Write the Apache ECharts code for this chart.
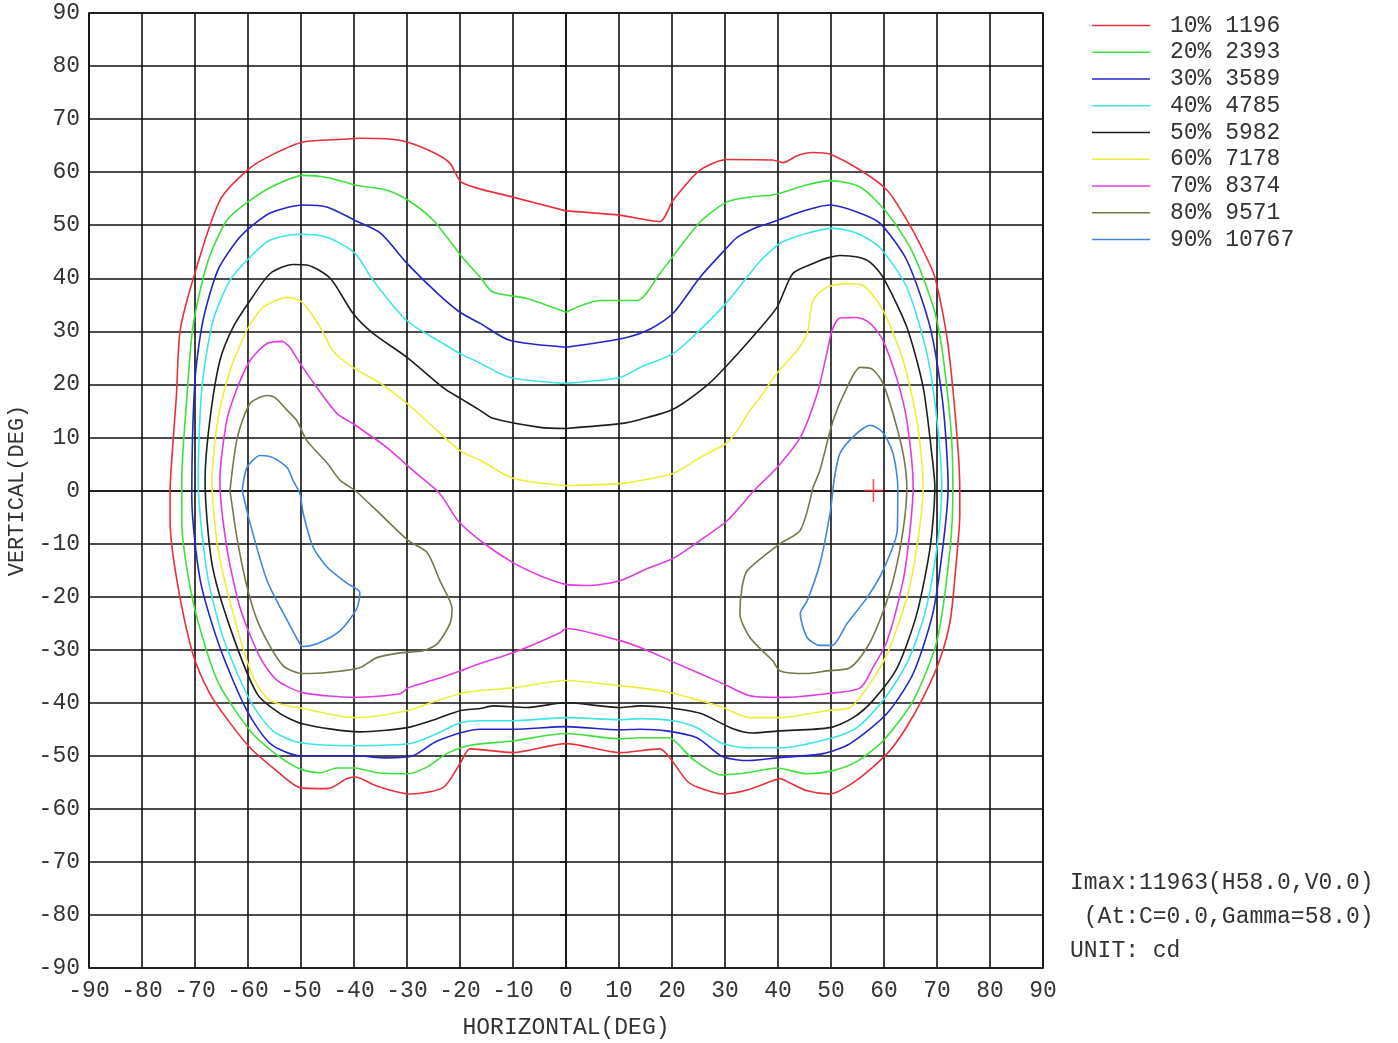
<!DOCTYPE html>
<html>
<head>
<meta charset="utf-8">
<script src="https://cdn.jsdelivr.net/npm/echarts@6/dist/echarts.min.js"></script>
<style>
html, body { margin: 0; padding: 0; background: #fff; }
#chart { width: 1398px; height: 1043px; }
</style>
</head>
<body>
<div id="chart"></div>
<script>
// iso-candela levels
var levelPct = ['10%', '20%', '30%', '40%', '50%', '60%', '70%', '80%', '90%'];
var levelCd = [1196, 2393, 3589, 4785, 5982, 7178, 8374, 9571, 10767];

// contour points [H deg, V deg]
var c10 = [[0,52.7],[10,51.9],[17.7,50.7],[20.2,54.7],[25.3,60.4],[30.4,62.4],[39,62.3],[41,61.8],[43.6,63.1],[46.6,63.7],[49.8,63.4],[55.5,60.4],[60.6,56.6],[64.3,51],[67,46],[69.6,40.2],[72,28],[73.8,10],[74.3,0],[74.3,-4.4],[73.5,-15],[72.5,-24.5],[70.5,-32],[67.4,-39],[64,-45],[60.6,-49.6],[55,-54.5],[49.8,-57.2],[45.5,-56.6],[42,-55],[40.4,-54.3],[39,-54.7],[34,-56.5],[29.6,-57.2],[25,-56],[22.8,-54.7],[19.6,-50.4],[17.7,-48.7],[10.2,-49.4],[0,-47.7],[-10,-49.4],[-18.1,-48.7],[-20,-51.5],[-23.2,-56],[-29.4,-57.2],[-35.7,-55.7],[-39.8,-54],[-41.3,-54.3],[-45,-56.2],[-50.2,-56],[-55,-52.5],[-59.6,-48.5],[-64,-43],[-67.2,-38.3],[-70.4,-30.8],[-73.4,-17],[-74.7,-5.7],[-74.7,0],[-74.3,7],[-73.5,18],[-72.8,30.2],[-70,41],[-65.3,54.7],[-59.6,60.8],[-55,63.5],[-49.6,65.7],[-42,66.2],[-38.9,66.4],[-34,66.3],[-30,65.7],[-25,63.7],[-21.9,61.7],[-19.6,58],[-10,55.3],[0,52.7]];
var c20 = [[0,33.6],[6.4,35.8],[13.4,35.8],[17.7,40.9],[25.3,50.6],[30.4,54.4],[34.7,55.3],[39,55.7],[41,56.2],[45,57.5],[49.8,58.4],[55.5,57.2],[60.6,52.3],[65.5,44.7],[70,32],[72.5,13.2],[73,0.6],[72.5,-10.7],[70,-28.3],[65.5,-39.6],[59.8,-47.2],[55,-51],[50.4,-52.8],[45.5,-53.4],[39.8,-52.3],[34.2,-53.2],[29.3,-53.6],[24,-50.7],[19.3,-46.6],[14,-46.6],[10.2,-46.8],[0,-45.8],[-10,-47.2],[-18,-48],[-22.5,-49.6],[-26,-52],[-29.8,-53.4],[-35.7,-53.2],[-39.8,-52.3],[-43.2,-52.3],[-46.4,-53.2],[-50.2,-52.5],[-55,-49.5],[-59.6,-45.3],[-65.8,-35.8],[-70.4,-20.8],[-72.5,-5.7],[-72.5,1.9],[-71.5,18],[-70.4,30.8],[-67.7,42.8],[-64,50.9],[-59.6,54.7],[-55,57.5],[-49.6,59.4],[-45,59],[-39.4,57.5],[-33.8,56.6],[-29.8,54.7],[-25,50.9],[-19.6,44],[-16.2,40.2],[-13.8,37.4],[-7.4,36.2],[0,33.6]];
var c30 = [[0,27],[10.8,28.7],[16,30.5],[20.2,33.4],[25.3,40.2],[30.4,45.8],[32.3,47.7],[36,49.6],[39,50.6],[44.2,52.5],[49.8,53.8],[54.9,52.5],[59.2,50.4],[64.3,43.4],[68.7,30.8],[71.1,16.4],[72.1,0.6],[71.1,-10.7],[69.2,-23.2],[65.5,-34.5],[60.6,-42],[53.6,-47.7],[48.5,-49.6],[39.8,-50.4],[34.7,-50.9],[29.6,-50.2],[24.7,-46.6],[19,-45.3],[14,-45],[10.2,-45.1],[0,-44.5],[-10,-45],[-16.2,-45],[-24.3,-47.2],[-28.9,-50],[-33.8,-50.4],[-39.8,-50],[-50.2,-50],[-55.8,-47.7],[-60.2,-41.5],[-65.3,-29.6],[-69,-17],[-70.6,-1.3],[-70,20.8],[-68.5,32],[-65.7,41.5],[-62,47.2],[-59.6,49.6],[-55.8,52.3],[-49.6,53.8],[-45,53.4],[-39.8,50.9],[-35,48.5],[-30,42.8],[-24.3,37.2],[-20,33.6],[-16.2,31.5],[-10.6,28.3],[0,27]];
var c40 = [[0,20.2],[10.2,21.3],[14,23.2],[20.2,25.8],[25,30],[30.4,35.5],[34.7,40.9],[36.6,43.2],[40.4,46.6],[45.5,48.5],[50.4,49.4],[54.9,48.5],[59.2,45.8],[64.3,38.3],[68.1,25.8],[70,13.2],[70.9,0.6],[70,-10.7],[67.7,-23.2],[64.3,-32.6],[59.8,-39.6],[54.9,-44.7],[50.4,-46.6],[40.4,-48.5],[34.2,-48.5],[29.3,-47.6],[24.7,-44.7],[20.2,-43.4],[14,-43],[10.2,-43.2],[0,-42.8],[-10,-43.4],[-16.2,-43.4],[-20,-43.8],[-24.3,-45.8],[-29.4,-47.7],[-39.8,-48.1],[-50.2,-47.5],[-55.3,-45.3],[-59.6,-39.6],[-64.7,-27.7],[-67.7,-15.7],[-69.4,1.9],[-68.7,19.4],[-66.6,32],[-63.4,39.6],[-59.6,44],[-55.8,47.2],[-50.2,48.3],[-45,47.7],[-39.8,44.7],[-36.4,39.6],[-30,32],[-23.2,27.7],[-20,25.8],[-16.2,24],[-10.6,21.3],[0,20.2]];
var c50 = [[0,11.7],[10.2,12.6],[14,13.4],[20.2,15.3],[26.6,19.8],[30.4,23.6],[36.3,30.2],[39.8,34.5],[42.8,40.9],[46.6,42.8],[49.2,43.8],[51.7,44.3],[55,44],[57.4,43],[59.8,40.2],[64.3,30.8],[67.4,19.4],[69,7],[69.6,0.6],[68.7,-10.7],[66.2,-23.2],[62.5,-33.4],[57.9,-39.6],[54.2,-42.8],[49.8,-44.7],[40.4,-45.3],[35.3,-45.7],[31.5,-44.9],[25.3,-42],[19,-40.9],[14,-40.6],[10.2,-40.9],[0,-40],[-7.4,-40.9],[-13.8,-40.6],[-16.2,-41.1],[-20,-41.5],[-24.3,-43],[-30,-44.7],[-38.9,-45.5],[-49.6,-44],[-54,-42],[-58.3,-38.3],[-63.4,-25.8],[-66.8,-13.8],[-68.1,1.9],[-67.2,13.2],[-65.3,24.5],[-62.8,30.8],[-59.6,35.8],[-55.8,40.9],[-51.5,42.6],[-48.9,42.5],[-44.5,40],[-40.2,33.4],[-36.4,29.6],[-30,25.1],[-23.2,19.4],[-20,17.4],[-16.2,15.1],[-13.8,13.6],[-4.9,11.9],[0,11.7]];
var c60 = [[0,0.9],[10.2,1.3],[14,1.9],[20.2,3.2],[25.3,6.2],[30.4,9],[32.3,11.3],[34.7,15.1],[36.6,17.5],[39.8,22.1],[43.6,26.4],[45.5,29.6],[46.6,35.8],[49.2,38.3],[53,39],[56,38.7],[59.8,34],[63.6,24.5],[66.2,13.2],[67.4,0.6],[66.2,-10.7],[64.3,-20.2],[60.6,-30.8],[56.8,-37.2],[53.6,-40.9],[49.2,-41.5],[40.4,-42.8],[34.7,-42.8],[29.6,-40.9],[25.3,-39.6],[20.2,-38.2],[14,-37.2],[10.2,-36.8],[0,-35.8],[-10,-37.2],[-16.2,-37.7],[-20,-38.3],[-24.3,-39.6],[-30,-41.5],[-39.8,-42.8],[-49.6,-41.1],[-55.8,-39.6],[-59,-35.3],[-62.8,-23.2],[-65.7,-10.7],[-66.8,1.9],[-65.7,13.2],[-63.4,22.6],[-61.1,28.3],[-60,30.6],[-57.2,34.5],[-52.6,36.4],[-49.8,35.5],[-46.4,30.8],[-44,26.4],[-40.2,23.2],[-35,20.2],[-30,16.4],[-24.3,11.3],[-20,7.5],[-16.2,5.7],[-10,2.3],[0,0.9]];
var c70 = [[-53.4,28.1],[-52.1,27],[-50.2,24],[-47,19.4],[-43.2,14.5],[-40.2,12.6],[-33.8,8.1],[-28.9,3.8],[-23.8,-0.6],[-20.3,-5.8],[-15.7,-9.8],[-10,-13.6],[-5,-16],[0,-17.7],[4,-17.9],[10.2,-17],[15.3,-14.7],[20.2,-12.8],[25.3,-9.4],[30.4,-5.7],[35.5,0],[39.8,4.3],[44.2,10],[47.4,18.3],[49.2,25.8],[50.2,30.2],[51.7,32.5],[54.9,32.6],[57.4,31.5],[59.8,28.3],[62.5,20.8],[64.3,13.2],[65.5,0.6],[64.9,-7.5],[63.6,-17],[60.6,-28.3],[57.9,-33.4],[55.5,-37.2],[49.2,-38.3],[40.4,-39],[34.7,-38.7],[29.6,-36.4],[20.2,-32.3],[14,-29.6],[10.2,-28.3],[0,-26],[-1.1,-26.8],[-10,-30.6],[-16.2,-32.6],[-20,-34],[-24.3,-35.5],[-29.8,-37.2],[-31.3,-38.3],[-39.8,-39],[-49.6,-38.1],[-54.5,-35.8],[-57.7,-31.5],[-61.5,-22.1],[-64,-10.7],[-65.3,1.9],[-64,13.2],[-62,19.4],[-59.6,24.5],[-56.4,27.7],[-53.4,28.1]];
var c80L = [[-63.4,0],[-62,10],[-59.6,16.4],[-56.4,17.9],[-54.9,17.5],[-52.6,15.1],[-50.8,13.2],[-48.9,9.4],[-45,5.1],[-42.6,1.9],[-39.8,0],[-35.7,-3.8],[-29.8,-9.4],[-26.2,-11.7],[-23.8,-17],[-21.5,-22.3],[-21.9,-25.1],[-24.3,-28.9],[-27,-30.2],[-31.3,-30.6],[-35.7,-31.5],[-38.9,-33.4],[-45,-34.3],[-49.6,-34.5],[-53.4,-33],[-57.7,-25.8],[-60,-18.9],[-62,-9.4],[-63.4,0]];
var c80R = [[46.6,0.6],[47.9,3.8],[50.4,13.2],[53,19.4],[55.5,23.2],[57.9,22.8],[59.8,20.2],[61.7,14.5],[63.6,7],[64.3,0.6],[63.6,-7.5],[61.7,-17],[59.2,-24.5],[56.8,-29.6],[53.6,-33.4],[49.2,-34],[45.5,-34.5],[40.4,-34],[39,-32.1],[34.7,-27.7],[32.8,-23.2],[33.2,-18.3],[34.2,-15.1],[40.4,-10],[44.2,-7.5],[46.6,0.6]];
var c90L = [[-61.1,0],[-60.2,4.3],[-57.7,6.6],[-55.3,6.2],[-52.6,4.3],[-51.5,1.9],[-50.2,-0.6],[-49.6,-4.3],[-47.7,-10.7],[-45,-14.5],[-41.3,-17.5],[-38.9,-19.2],[-39.4,-22.1],[-42.6,-26.4],[-47,-28.9],[-49.6,-29.4],[-50.2,-28.9],[-52.6,-24.5],[-56.4,-17],[-59.6,-6.2],[-61.1,0]];
var c90R = [[50.4,0.6],[51.7,7],[54.9,10.8],[57.4,12.3],[59.8,10.9],[61.7,7],[62.6,0.6],[62.5,-7.5],[59.8,-15.1],[56.8,-20.2],[53,-25.1],[50.2,-29.2],[47.9,-29.2],[45.5,-27.7],[44.2,-23.2],[45.5,-20.8],[47.9,-13.8],[49.8,-4.4],[50.4,0.6]];

var imaxPos = [58, 0];
var infoLines = ['Imax:11963(H58.0,V0.0)', ' (At:C=0.0,Gamma=58.0)', 'UNIT: cd'];

var colors = ['#e8303a', '#3ee03e', '#2424c8', '#3ee6e6', '#1e1e1e', '#eeee3a', '#e03ce0', '#77774a', '#3f86dc'];
var font = '"Liberation Mono", "DejaVu Sans Mono", monospace';

var contours = [
	{ lv: 0, pts: c10 },
	{ lv: 1, pts: c20 },
	{ lv: 2, pts: c30 },
	{ lv: 3, pts: c40 },
	{ lv: 4, pts: c50 },
	{ lv: 5, pts: c60 },
	{ lv: 6, pts: c70 },
	{ lv: 7, pts: c80L },
	{ lv: 7, pts: c80R },
	{ lv: 8, pts: c90L },
	{ lv: 8, pts: c90R }
];

var names = levelPct.map(function(p, i) { return p + ' ' + levelCd[i]; });

var series = contours.map(function(c) {
	return {
		type: 'line',
		name: names[c.lv],
		data: c.pts,
		showSymbol: false,
		symbol: 'none',
		smooth: 0.25,
		silent: true,
		color: colors[c.lv],
		lineStyle: { color: colors[c.lv], width: 1.6 },
		z: 3
	};
});

// Imax marker cross
series.push({
	type: 'scatter',
	symbol: 'rect',
	silent: true,
	itemStyle: { color: '#e8303a' },
	data: [
		{ value: imaxPos, symbolSize: [1.6, 23] },
		{ value: imaxPos, symbolSize: [20, 1.6] }
	],
	z: 4
});

var chart = echarts.init(document.getElementById('chart'), null, { renderer: 'canvas' });

chart.setOption({
	animation: false,
	backgroundColor: '#fff',
	grid: {
		left: 89, top: 13, width: 954, height: 955,
		containLabel: false,
		outerBoundsMode: 'none',
		show: true, borderColor: '#111', borderWidth: 1.6
	},
	legend: {
		data: names,
		orient: 'vertical',
		left: 1092,
		top: 14,
		padding: 0,
		icon: 'rect',
		itemWidth: 58,
		itemHeight: 1.6,
		itemGap: 3.75,
		selectedMode: false,
		textStyle: {
			fontFamily: font, fontSize: 23, color: '#333',
			lineHeight: 23, padding: [0, 0, 0, 15]
		}
	},
	xAxis: {
		type: 'value',
		min: -90, max: 90, interval: 10,
		name: 'HORIZONTAL(DEG)',
		nameLocation: 'middle',
		nameGap: 48,
		nameTextStyle: { fontFamily: font, fontSize: 23, color: '#333' },
		axisLine: { show: true, lineStyle: { color: '#111', width: 1.6 } },
		axisTick: { show: false },
		axisLabel: { fontFamily: font, fontSize: 23, color: '#333', margin: 11 },
		splitLine: { show: true, lineStyle: { color: '#111', width: 1.6 } }
	},
	yAxis: {
		type: 'value',
		min: -90, max: 90, interval: 10,
		name: 'VERTICAL(DEG)',
		nameLocation: 'middle',
		nameGap: 60,
		nameRotate: 90,
		nameTextStyle: { fontFamily: font, fontSize: 22, color: '#333' },
		axisLine: { show: true, lineStyle: { color: '#111', width: 1.6 } },
		axisTick: { show: true, inside: false, length: 6, lineStyle: { color: '#111', width: 1.6 } },
		axisLabel: { fontFamily: font, fontSize: 23, color: '#333', margin: 9 },
		splitLine: { show: true, lineStyle: { color: '#111', width: 1.6 } }
	},
	graphic: infoLines.map(function(t, i) {
		return {
			type: 'text',
			left: 1070,
			top: 871 + i * 34,
			style: { text: t, font: '23px ' + font, fill: '#333' }
		};
	}),
	series: series
});
</script>
</body>
</html>
